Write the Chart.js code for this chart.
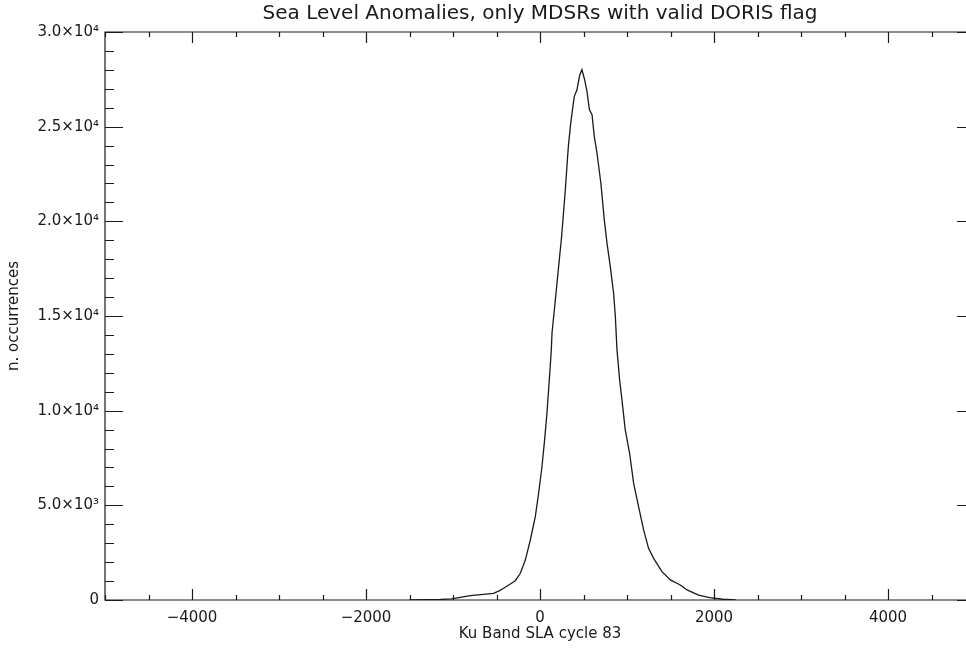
<!DOCTYPE html>
<html>
<head>
<meta charset="utf-8">
<script src="https://cdn.jsdelivr.net/npm/chart.js@4.4.1/dist/chart.umd.min.js"></script>
<style>
  html, body { margin: 0; padding: 0; background: #fff; overflow: hidden; }
  #wrap { width: 1000px; height: 650px; }
</style>
</head>
<body>
<div id="wrap"><canvas id="slaChart"></canvas></div>
<script>
// SLA bin centres (mm) and counts
const slaValues = [
  -1500, -1146, -1015, -900, -802, -650, -535, -470, -418, -350,
  -284, -226, -169, -111, -54, -16, 23, 53, 80, 107,
  130, 138, 165, 214, 245, 264, 291, 317, 326, 353,
  394, 425, 455, 482, 513, 540, 567, 598, 624, 655,
  700, 739, 770, 808, 846, 866, 885, 915, 942, 980,
  1030, 1076, 1133, 1191, 1248, 1306, 1402, 1498, 1613, 1690,
  1823, 1950, 2100, 2250
];
const occurrences = [
  0, 30, 60, 150, 230, 300, 350, 480, 620, 820,
  1020, 1410, 2110, 3170, 4400, 5640, 7050, 8460, 9870, 11630,
  13210, 14100, 15330, 17610, 19030, 20080, 21670, 23400, 23960, 25190,
  26600, 26950, 27700, 28010, 27480, 26860, 25900, 25630, 24490, 23610,
  22000, 20080, 18850, 17610, 16210, 14970, 13210, 11630, 10570, 8980,
  7750, 6170, 4930, 3700, 2730, 2200, 1500, 1060, 790, 530,
  260, 120, 40, 0
];

const xMajorTicks = [-4000, -2000, 0, 2000, 4000];
const xTickLabels = ['\u22124000', '\u22122000', '0', '2000', '4000'];
const yMajorTicks = [0, 5000, 10000, 15000, 20000, 25000, 30000];
const yTickLabels = ['0', '5.0\u00d710\u00b3', '1.0\u00d710\u2074', '1.5\u00d710\u2074',
                     '2.0\u00d710\u2074', '2.5\u00d710\u2074', '3.0\u00d710\u2074'];

const xMinorStep = 500;
const yMinorStep = 1000;
const ink = '#1a1a1a';
const fontFamily = "'DejaVu Sans', sans-serif";

function minorTicks(scale, step) {
  const ticks = [];
  for (let v = scale.min; v <= scale.max; v += step) ticks.push({ value: v });
  scale.ticks = ticks;
}

// IDL style frame: box with inward ticks on all four sides
const axisFrame = {
  id: 'axisFrame',
  afterDraw(chart) {
    const { ctx, chartArea: a, scales: { x, y } } = chart;
    ctx.save();
    ctx.strokeStyle = ink;
    ctx.lineWidth = 1.2;
    ctx.beginPath();
    ctx.rect(a.left, a.top, a.right - a.left, a.bottom - a.top);
    x.ticks.forEach(t => {
      const px = Math.round(x.getPixelForValue(t.value)) + 0.5;
      const len = xMajorTicks.includes(t.value) ? 11 : 5;
      ctx.moveTo(px, a.bottom); ctx.lineTo(px, a.bottom - len);
      ctx.moveTo(px, a.top); ctx.lineTo(px, a.top + len);
    });
    y.ticks.forEach(t => {
      const py = Math.round(y.getPixelForValue(t.value)) + 0.5;
      const len = yMajorTicks.includes(t.value) ? 18 : 9;
      ctx.moveTo(a.left, py); ctx.lineTo(a.left + len, py);
      ctx.moveTo(a.right, py); ctx.lineTo(a.right - len, py);
    });
    ctx.stroke();
    ctx.restore();
  }
};

const ctx = document.getElementById('slaChart').getContext('2d');
new Chart(ctx, {
  type: 'line',
  data: {
    datasets: [{
      data: slaValues.map((v, i) => ({ x: v, y: occurrences[i] })),
      borderColor: ink,
      borderWidth: 1.3,
      pointRadius: 0,
      tension: 0,
      fill: false
    }]
  },
  options: {
    responsive: true,
    maintainAspectRatio: false,
    animation: false,
    layout: { padding: { left: 0, right: 25, top: 0, bottom: 0 } },
    plugins: {
      legend: { display: false },
      tooltip: { enabled: false },
      title: {
        display: true,
        fullSize: false,
        text: 'Sea Level Anomalies, only MDSRs with valid DORIS flag',
        color: ink,
        font: { family: fontFamily, size: 20, weight: 'normal' },
        padding: { top: 2, bottom: 6 }
      }
    },
    scales: {
      x: {
        type: 'linear',
        min: -5000,
        max: 5000,
        afterBuildTicks: s => minorTicks(s, xMinorStep),
        afterFit: s => { s.height = 50; },
        grid: { display: false, drawTicks: false },
        border: { display: false },
        ticks: {
          autoSkip: false,
          maxRotation: 0,
          padding: 9,
          color: ink,
          font: { family: fontFamily, size: 15 },
          callback: v => {
            const i = xMajorTicks.indexOf(v);
            return i >= 0 ? xTickLabels[i] : '';
          }
        },
        title: {
          display: true,
          text: 'Ku Band SLA cycle 83',
          color: ink,
          font: { family: fontFamily, size: 15 },
          padding: { top: 0, bottom: 7 }
        }
      },
      y: {
        type: 'linear',
        min: 0,
        max: 30000,
        afterBuildTicks: s => minorTicks(s, yMinorStep),
        afterFit: s => { s.width = 105; },
        grid: { display: false, drawTicks: false },
        border: { display: false },
        ticks: {
          autoSkip: false,
          padding: 6,
          color: ink,
          font: { family: fontFamily, size: 15 },
          callback: v => {
            const i = yMajorTicks.indexOf(v);
            return i >= 0 ? yTickLabels[i] : '';
          }
        },
        title: {
          display: true,
          text: 'n. occurrences',
          color: ink,
          font: { family: fontFamily, size: 15 },
          padding: { top: 5, bottom: 0 }
        }
      }
    }
  },
  plugins: [axisFrame]
});
</script>
</body>
</html>
